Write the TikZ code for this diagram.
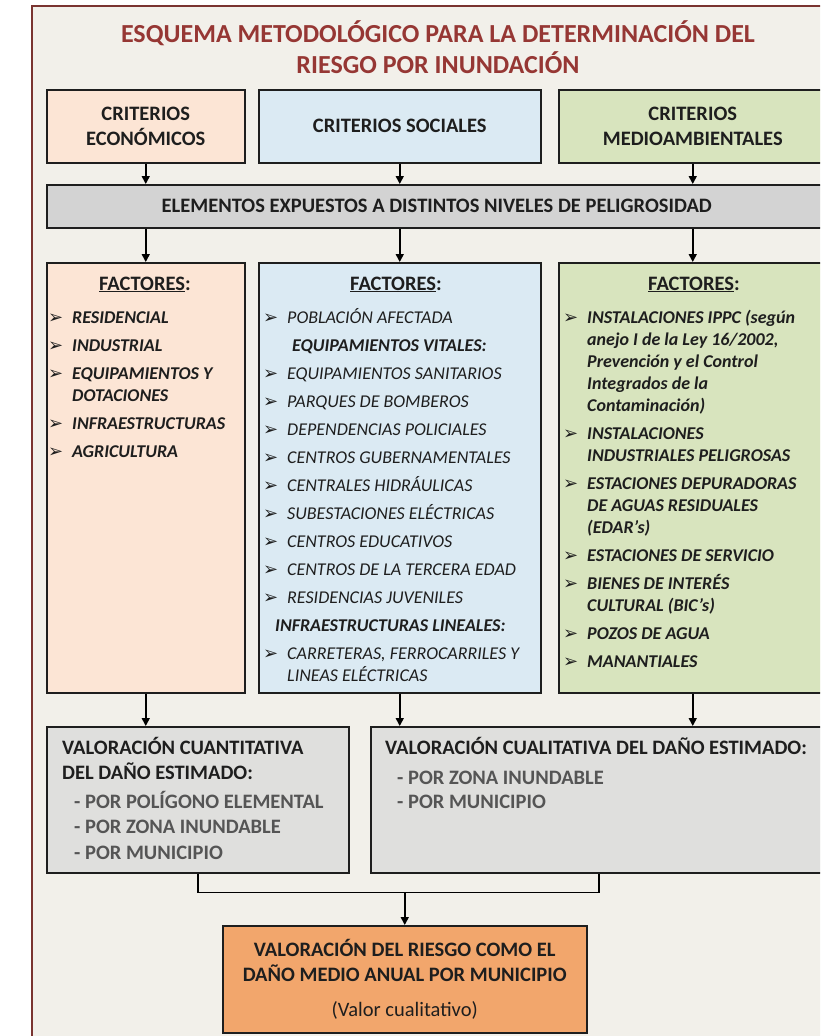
\documentclass[tikz,border=0pt]{standalone}
\usepackage{fontspec}
\setmainfont{Carlito}
\newfontfamily\dejavu{DejaVu Sans}
\usetikzlibrary{arrows.meta}

\definecolor{marco}{RGB}{122,52,48}
\definecolor{fondo}{RGB}{242,240,234}
\definecolor{titulo}{RGB}{150,55,52}
\definecolor{econ}{RGB}{252,229,213}
\definecolor{social}{RGB}{219,234,243}
\definecolor{medio}{RGB}{216,228,190}
\definecolor{gris}{RGB}{211,211,211}
\definecolor{grisclaro}{RGB}{223,223,221}
\definecolor{naranja}{RGB}{242,166,108}
\definecolor{tinta}{RGB}{30,30,30}
\definecolor{subtinta}{RGB}{85,85,85}

\newcommand\flecha{{\dejavu\fontsize{18}{18}\selectfont ➢}}
\newcommand\itm{\par\hangindent=24pt\hangafter=1\noindent\makebox[24pt][l]{\flecha}}

\begin{document}
\begin{tikzpicture}[x=1pt,y=-1pt,>={Triangle[length=8pt,width=8pt]},
  caja/.style 2 args={draw=tinta,line width=1.5pt,inner sep=0pt,anchor=north west,
    minimum width=#1,minimum height=#2,align=center,text=tinta,
    font=\fontsize{20.5}{25}\selectfont\bfseries},
  lista/.style={anchor=base west,inner sep=0pt,text=tinta,
    font=\fontsize{18}{22}\selectfont},
  cabeza/.style={anchor=base,inner sep=0pt,text=tinta,font=\fontsize{20.5}{22}\selectfont\bfseries},
  flujo/.style={draw=black,line width=1.6pt}]
  \useasboundingbox (0,0) rectangle (820,1036);
  \clip (0,0) rectangle (820,1036);
  \fill[white] (0,0) rectangle (820,1036);
  \draw[marco,line width=2pt,fill=fondo] (32,6) rectangle (840,1050);

  % titulo
  \node[text=titulo,font=\fontsize{26}{31}\selectfont\bfseries,align=center] (titulo) at (438,47) {ESQUEMA METODOLÓGICO PARA LA DETERMINACIÓN DEL\\RIESGO POR INUNDACIÓN};

  % criterios
  \node[caja={198pt}{73pt},fill=econ] (ceco) at (46,89) {CRITERIOS\\ECONÓMICOS};
  \node[caja={282pt}{73pt},fill=social] (csoc) at (258,89) {CRITERIOS SOCIALES};
  \node[caja={268pt}{73pt},fill=medio] (cmed) at (558,89) {CRITERIOS\\MEDIOAMBIENTALES};
  \node[caja={780pt}{43pt},fill=gris] (elem) at (46,184) {ELEMENTOS EXPUESTOS A DISTINTOS NIVELES DE PELIGROSIDAD};

  % factores
  \node[caja={198pt}{430pt},fill=econ] (feco) at (46,262) {};
  \node[caja={282pt}{430pt},fill=social] (fsoc) at (258,262) {};
  \node[caja={268pt}{430pt},fill=medio] (fmed) at (558,262) {};
  \node[cabeza] (heco) at (145,290) {\underline{FACTORES}:};
  \node[cabeza] (hsoc) at (396,290) {\underline{FACTORES}:};
  \node[cabeza] (hmed) at (694,290) {\underline{FACTORES}:};
  \node[lista] (leco) at (48,323) {\parbox[t]{300pt}{\bfseries\itshape\setlength\parskip{6pt}\raggedright
    \itm RESIDENCIAL
    \itm INDUSTRIAL
    \itm EQUIPAMIENTOS Y\newline DOTACIONES
    \itm INFRAESTRUCTURAS
    \itm AGRICULTURA}};
  \node[lista] (lsoc) at (263,323) {\parbox[t]{300pt}{\itshape\setlength\parskip{6pt}\raggedright
    \itm POBLACIÓN AFECTADA
    \par\noindent\hspace*{29pt}{\bfseries EQUIPAMIENTOS VITALES:}
    \itm EQUIPAMIENTOS SANITARIOS
    \itm PARQUES DE BOMBEROS
    \itm DEPENDENCIAS POLICIALES
    \itm CENTROS GUBERNAMENTALES
    \itm CENTRALES HIDRÁULICAS
    \itm SUBESTACIONES ELÉCTRICAS
    \itm CENTROS EDUCATIVOS
    \itm CENTROS DE LA TERCERA EDAD
    \itm RESIDENCIAS JUVENILES
    \par\noindent\hspace*{12pt}{\bfseries INFRAESTRUCTURAS LINEALES:}
    \itm CARRETERAS, FERROCARRILES Y\newline LINEAS ELÉCTRICAS}};
  \node[lista] (lmed) at (563,323) {\parbox[t]{300pt}{\bfseries\itshape\setlength\parskip{6pt}\raggedright
    \itm INSTALACIONES IPPC (según\newline anejo I de la Ley 16/2002,\newline Prevención y el Control\newline Integrados de la\newline Contaminación)
    \itm INSTALACIONES\newline INDUSTRIALES PELIGROSAS
    \itm ESTACIONES DEPURADORAS\newline DE AGUAS RESIDUALES\newline (EDAR’s)
    \itm ESTACIONES DE SERVICIO
    \itm BIENES DE INTERÉS\newline CULTURAL (BIC’s)
    \itm POZOS DE AGUA
    \itm MANANTIALES}};

  % valoracion
  \node[caja={302pt}{146pt},fill=grisclaro] (cuant) at (46,726) {};
  \node[caja={456pt}{146pt},fill=grisclaro] (cual) at (370,726) {};
  \node[lista,font=\fontsize{20.5}{25.5}\selectfont\bfseries] (tcuant) at (62,754) {\parbox[t]{300pt}{\raggedright
    VALORACIÓN CUANTITATIVA\\DEL DAÑO ESTIMADO:\\[3pt]\color{subtinta}
    \hspace*{12pt}- POR POLÍGONO ELEMENTAL\\\hspace*{12pt}- POR ZONA INUNDABLE\\\hspace*{12pt}- POR MUNICIPIO}};
  \node[lista,font=\fontsize{20.5}{25.5}\selectfont\bfseries] (tcual) at (385,754) {\parbox[t]{500pt}{\raggedright
    VALORACIÓN CUALITATIVA DEL DAÑO ESTIMADO:\\[5pt]\color{subtinta}
    \hspace*{12pt}- POR ZONA INUNDABLE\\[-2pt]\hspace*{12pt}- POR MUNICIPIO}};
  \node[caja={364pt}{107pt},fill=naranja] (riesgo) at (222,925) {VALORACIÓN DEL RIESGO COMO EL\\DAÑO MEDIO ANUAL POR MUNICIPIO\\[10pt]{\mdseries(Valor cualitativo)}};

  % flechas
  \draw[flujo,->] (ceco.south) -- (ceco.south |- elem.north);
  \draw[flujo,->] (csoc.south) -- (csoc.south |- elem.north);
  \draw[flujo,->] (cmed.south) -- (cmed.south |- elem.north);
  \draw[flujo,->] (feco.north |- elem.south) -- (feco.north);
  \draw[flujo,->] (fsoc.north |- elem.south) -- (fsoc.north);
  \draw[flujo,->] (fmed.north |- elem.south) -- (fmed.north);
  \draw[flujo,->] (feco.south) -- (feco.south |- cuant.north);
  \draw[flujo,->] (fsoc.south) -- (fsoc.south |- cual.north);
  \draw[flujo,->] (fmed.south) -- (fmed.south |- cual.north);
  \path (cuant.south) ++(0,19) coordinate (union);
  \draw[flujo] (cuant.south) -- (union) -| (cual.south);
  \draw[flujo,->] (union -| riesgo.north) -- (riesgo.north);
\end{tikzpicture}
\end{document}
